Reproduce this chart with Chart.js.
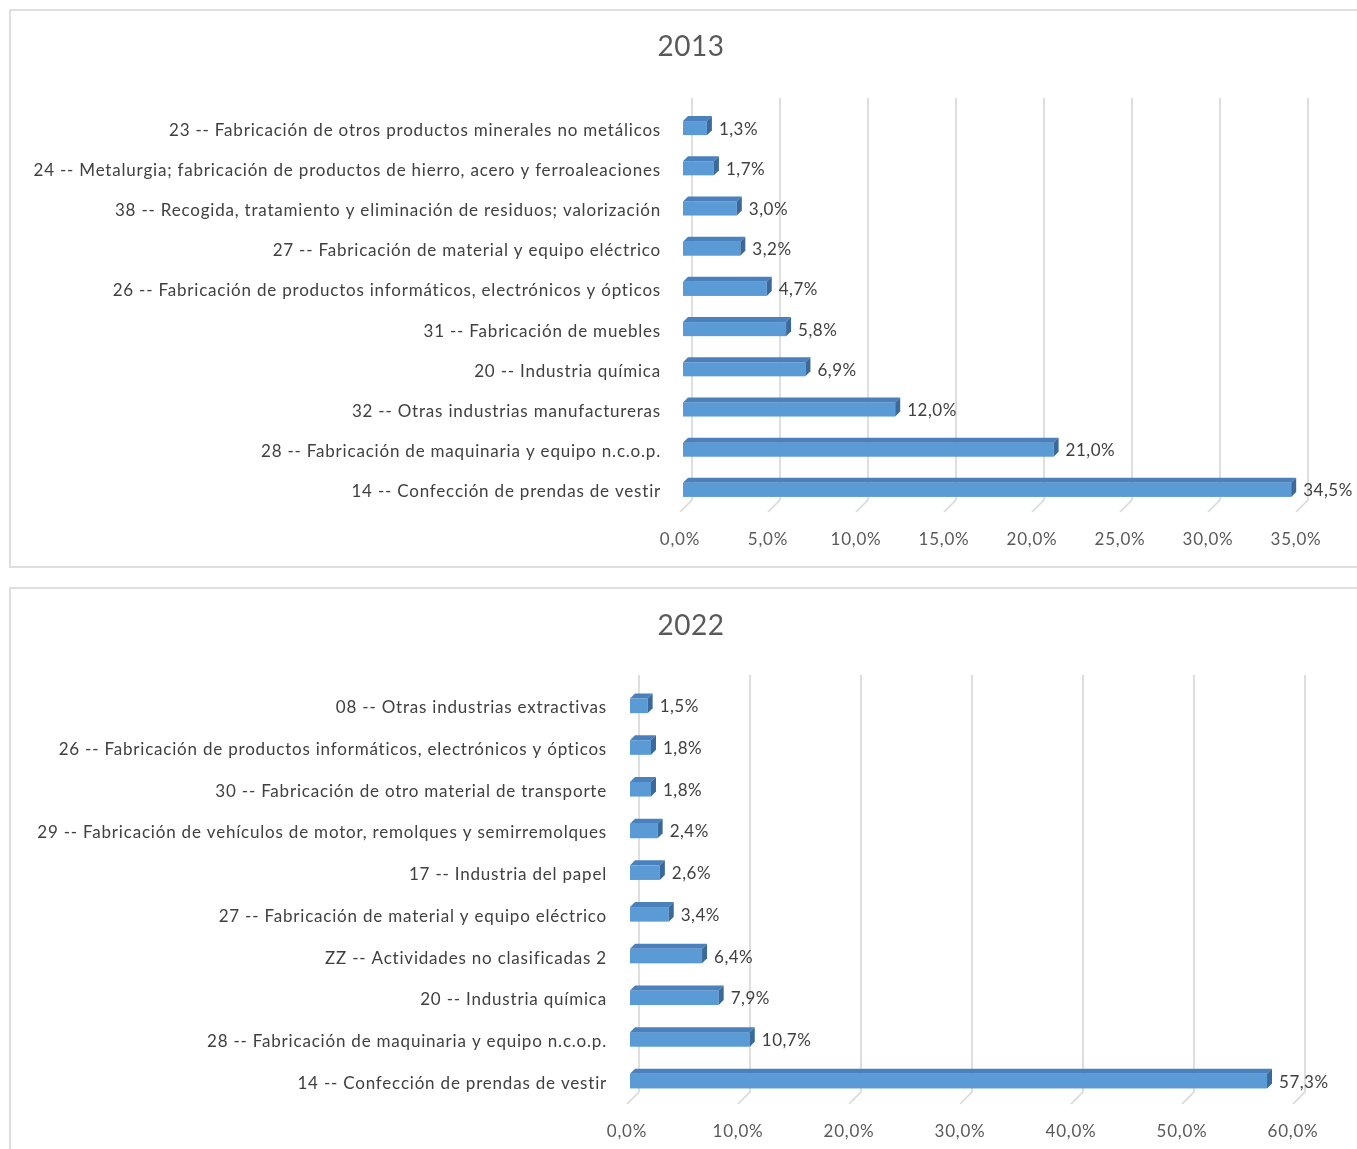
<!DOCTYPE html>
<html>
<head>
<meta charset="utf-8">
<script src="https://cdn.jsdelivr.net/npm/chart.js@4.4.1/dist/chart.umd.min.js"></script>
<style>
    body { margin: 0; background: #fff; width: 1357px; height: 1149px; overflow: hidden; position: relative; }
    .frame { position: absolute; border: 2px solid #dedede; box-sizing: border-box; }
    canvas { position: absolute; }
</style>
</head>
<body>
<div class="frame" style="left:9px; top:9px; width:1360px; height:559px;"></div>
<div class="frame" style="left:9px; top:587px; width:1360px; height:600px;"></div>
<canvas id="chart2013" width="1346" height="555" style="left:11px; top:11px;"></canvas>
<canvas id="chart2022" width="1346" height="560" style="left:11px; top:589px;"></canvas>
<script>
const labels2013 = [
    "23 -- Fabricación de otros productos minerales no metálicos",
    "24 -- Metalurgia; fabricación de productos de hierro, acero y ferroaleaciones",
    "38 -- Recogida, tratamiento y eliminación de residuos; valorización",
    "27 -- Fabricación de material y equipo eléctrico",
    "26 -- Fabricación de productos informáticos, electrónicos y ópticos",
    "31 -- Fabricación de muebles",
    "20 -- Industria química",
    "32 -- Otras industrias manufactureras",
    "28 -- Fabricación de maquinaria y equipo n.c.o.p.",
    "14 -- Confección de prendas de vestir"
];
const values2013 = [1.3, 1.7, 3.0, 3.2, 4.7, 5.8, 6.9, 12.0, 21.0, 34.5];

const labels2022 = [
    "08 -- Otras industrias extractivas",
    "26 -- Fabricación de productos informáticos, electrónicos y ópticos",
    "30 -- Fabricación de otro material de transporte",
    "29 -- Fabricación de vehículos de motor, remolques y semirremolques",
    "17 -- Industria del papel",
    "27 -- Fabricación de material y equipo eléctrico",
    "ZZ -- Actividades no clasificadas 2",
    "20 -- Industria química",
    "28 -- Fabricación de maquinaria y equipo n.c.o.p.",
    "14 -- Confección de prendas de vestir"
];
const values2022 = [1.5, 1.8, 1.8, 2.4, 2.6, 3.4, 6.4, 7.9, 10.7, 57.3];

const FONT = "Lato";
const DEPTH = 5;
const WALL = 12;

function pct(v) {
    return v.toFixed(1).replace(".", ",") + "%";
}

// wider letter spacing for the axis texts, like the excel export
const spacing = {
    id: "spacing",
    beforeDraw(chart) {
        chart.ctx.letterSpacing = "0.8px";
    },
    beforeDatasetsDraw(chart) {
        chart.ctx.letterSpacing = "0px";
    }
};

// title drawn centred on the whole panel
const panelTitle = {
    id: "panelTitle",
    afterDraw(chart) {
        const ctx = chart.ctx;
        ctx.save();
        ctx.letterSpacing = "0.5px";
        ctx.fillStyle = "#595959";
        ctx.font = "28px " + FONT;
        ctx.textAlign = "center";
        ctx.textBaseline = "middle";
        ctx.fillText(chart.options.plugins.panelTitle.text, 680, chart.options.plugins.panelTitle.y);
        ctx.restore();
    }
};

// back wall gridlines with the slanted floor piece
const wallGrid = {
    id: "wallGrid",
    beforeDatasetsDraw(chart) {
        const ctx = chart.ctx;
        const xs = chart.scales.x;
        const area = chart.chartArea;
        ctx.save();
        ctx.strokeStyle = "#d9d9d9";
        ctx.lineWidth = 1.7;
        xs.ticks.forEach(t => {
            const x = xs.getPixelForValue(t.value);
            ctx.beginPath();
            ctx.moveTo(x + WALL, area.top - WALL);
            ctx.lineTo(x + WALL, area.bottom - WALL);
            ctx.lineTo(x, area.bottom);
            ctx.stroke();
        });
        ctx.restore();
    }
};

// 3D boxes drawn on the bar elements, plus the value labels
const boxes = {
    id: "boxes",
    afterDatasetsDraw(chart) {
        const ctx = chart.ctx;
        const meta = chart.getDatasetMeta(0);
        const data = chart.data.datasets[0].data;
        ctx.save();
        meta.data.forEach((bar, i) => {
            const p = bar.getProps(["x", "y", "base", "height"], true);
            const L = p.base + 3;
            const R = p.x + 4;
            const T = p.y - p.height / 2 - 2;
            const B = p.y + p.height / 2 - 2;
            const d = DEPTH;

            ctx.fillStyle = "#5b9bd5";
            ctx.fillRect(L, T, R - L, B - T);

            ctx.fillStyle = "#4a80bb";
            ctx.beginPath();
            ctx.moveTo(L, T);
            ctx.lineTo(L + d, T - d);
            ctx.lineTo(R + d, T - d);
            ctx.lineTo(R, T);
            ctx.closePath();
            ctx.fill();

            ctx.fillStyle = "#3b6a9a";
            ctx.beginPath();
            ctx.moveTo(R, T);
            ctx.lineTo(R + d, T - d);
            ctx.lineTo(R + d, B - d);
            ctx.lineTo(R, B);
            ctx.closePath();
            ctx.fill();

            ctx.letterSpacing = "0.5px";
            ctx.fillStyle = "#404040";
            ctx.font = "17px " + FONT;
            ctx.textAlign = "left";
            ctx.textBaseline = "middle";
            ctx.fillText(pct(data[i]), R + d + 7, p.y - 1);
        });
        ctx.restore();
    }
};

function makeChart(id, title, labels, values, opts) {
    const ctx = document.getElementById(id).getContext("2d");
    return new Chart(ctx, {
        type: "bar",
        data: {
            labels: labels,
            datasets: [{
                data: values,
                backgroundColor: "rgba(0,0,0,0)",
                borderWidth: 0,
                categoryPercentage: 1,
                barPercentage: 0.35
            }]
        },
        options: {
            indexAxis: "y",
            responsive: false,
            animation: false,
            layout: { padding: { left: 0, right: opts.right, top: opts.top, bottom: 0 } },
            plugins: {
                legend: { display: false },
                tooltip: { enabled: false },
                title: { display: false },
                panelTitle: { text: title, y: opts.titleY }
            },
            scales: {
                x: {
                    min: 0,
                    max: opts.max,
                    ticks: {
                        stepSize: opts.step,
                        color: "#595959",
                        font: { family: FONT, size: 17 },
                        padding: 17,
                        maxRotation: 0,
                        callback: v => pct(v)
                    },
                    grid: { display: false, drawTicks: false },
                    border: { display: false },
                    afterFit(scale) { scale.height = opts.xHeight; }
                },
                y: {
                    ticks: {
                        color: "#404040",
                        font: { family: FONT, size: 17 },
                        padding: opts.labelPad,
                        autoSkip: false
                    },
                    grid: { display: false, drawTicks: false },
                    border: { display: false },
                    afterFit(scale) { scale.width = opts.yWidth; }
                }
            }
        },
        plugins: [spacing, wallGrid, boxes, panelTitle]
    });
}

makeChart("chart2013", "2013", labels2013, values2013, {
    max: 35, step: 5, right: 61, yWidth: 669, labelPad: 19,
    top: 99, titleY: 36, xHeight: 54
});

makeChart("chart2022", "2022", labels2022, values2022, {
    max: 60, step: 10, right: 64, yWidth: 616, labelPad: 20,
    top: 98, titleY: 37, xHeight: 45
});
</script>
</body>
</html>
